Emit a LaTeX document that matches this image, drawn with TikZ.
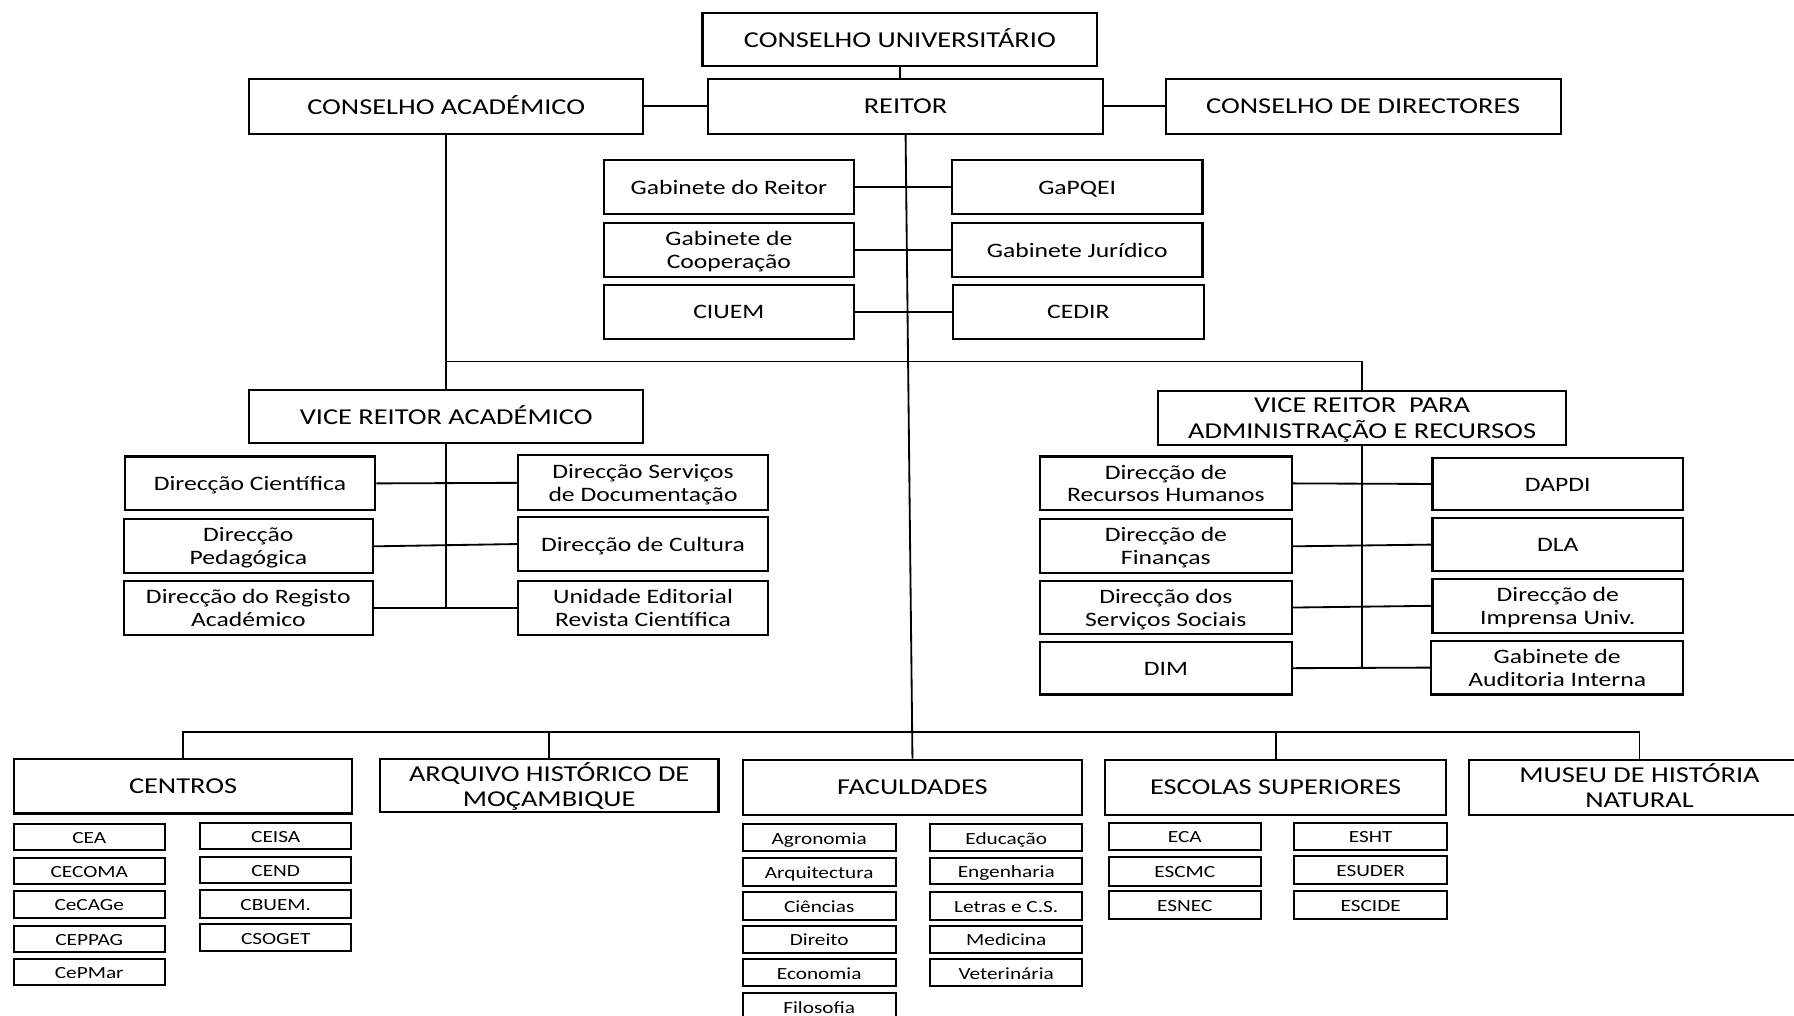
\documentclass[tikz,border=0pt]{standalone}
\usepackage{fontspec}
\setmainfont{Carlito}
\tikzset{
  box/.style={draw, line width=0.9pt, inner sep=0pt, align=center, fill=white},
  big/.style={font=\fontsize{12.4}{13.75}\selectfont},
  mid/.style={font=\fontsize{11.2}{12.5}\selectfont},
  small/.style={font=\fontsize{9.3}{11}\selectfont},
  conn/.style={line width=0.8pt}
}
\newcommand\bx[7]{\node[box,#7,minimum width={(#4-#2)*0.5pt},minimum height={(#5-#3)*0.5pt}] (#1) at ({(#2+#4)/2},{(#3+#5)/2}) {\raisebox{-1.1pt}[\height][\depth]{\scalebox{1}[0.8]{\begin{tabular}{@{}c@{}}#6\end{tabular}}}};}
\begin{document}
\begin{tikzpicture}[x=0.5pt,y=-0.5pt]
\useasboundingbox (0,0) rectangle (1568,888);
\clip (0,0) rectangle (1568,888);
% top
\bx{cu}{614}{11}{959}{58}{CONSELHO UNIVERSITÁRIO}{big}
\bx{ca}{218}{69}{562}{117}{CONSELHO ACADÉMICO}{big}
\bx{reitor}{619}{69}{964}{117}{REITOR}{big}
\bx{cd}{1019}{69}{1364}{117}{CONSELHO DE DIRECTORES}{big}
% gabinetes
\bx{gr}{528}{140}{746}{187}{Gabinete do Reitor}{mid}
\bx{gc}{528}{195}{746}{242}{Gabinete de\\Cooperação}{mid}
\bx{ciuem}{528}{249}{746}{296}{CIUEM}{mid}
\bx{gapqei}{832}{140}{1051}{187}{GaPQEI}{mid}
\bx{gj}{832}{195}{1051}{242}{Gabinete Jurídico}{mid}
\bx{cedir}{833}{249}{1052}{296}{CEDIR}{mid}
% VRA
\bx{vra}{218}{341}{562}{387}{VICE REITOR ACADÉMICO}{big}
\bx{dci}{109}{399}{328}{446}{Direcção Científica}{mid}
\bx{dpe}{108}{454}{326}{501}{Direcção\\Pedagógica}{mid}
\bx{dra}{108}{508}{326}{555}{Direcção do Registo\\Académico}{mid}
\bx{dsd}{453}{398}{671}{446}{Direcção Serviços\\de Documentação}{mid}
\bx{dcu}{453}{452}{671}{499}{Direcção de Cultura}{mid}
\bx{ue}{453}{508}{671}{555}{Unidade Editorial\\Revista Científica}{mid}
% VRAR
\bx{vrar}{1012}{342}{1369}{389}{VICE REITOR\ \ PARA\\ADMINISTRAÇÃO E RECURSOS}{big}
\bx{drh}{909}{399}{1129}{446}{Direcção de\\Recursos Humanos}{mid}
\bx{dfi}{909}{454}{1129}{501}{Direcção de\\Finanças}{mid}
\bx{dss}{909}{508}{1129}{554}{Direcção dos\\Serviços Sociais}{mid}
\bx{dim}{909}{561}{1129}{607}{DIM}{mid}
\bx{dapdi}{1252}{400}{1471}{446}{DAPDI}{mid}
\bx{dla}{1252}{453}{1471}{499}{DLA}{mid}
\bx{dip}{1252}{506}{1471}{553}{Direcção de\\Imprensa Univ.}{mid}
\bx{gai}{1251}{560}{1471}{607}{Gabinete de\\Auditoria Interna}{mid}
% bottom level
\bx{centros}{12}{663}{308}{711}{CENTROS}{big}
\bx{arq}{332}{663}{628}{710}{ARQUIVO HISTÓRICO DE\\MOÇAMBIQUE}{big}
\bx{fac}{649}{664}{946}{712}{FACULDADES}{big}
\bx{esc}{966}{664}{1264}{712}{ESCOLAS SUPERIORES}{big}
\bx{mus}{1284}{664}{1582}{712}{MUSEU DE HISTÓRIA\\NATURAL}{big}
% centros
\bx{cea}{12}{720}{144}{743}{CEA}{small}
\bx{cecoma}{12}{750}{144}{773}{CECOMA}{small}
\bx{cecage}{12}{779}{144}{802}{CeCAGe}{small}
\bx{ceppag}{12}{809}{144}{832}{CEPPAG}{small}
\bx{cepmar}{12}{838}{144}{861}{CePMar}{small}
\bx{ceisa}{175}{719}{307}{742}{CEISA}{small}
\bx{cend}{175}{749}{307}{772}{CEND}{small}
\bx{cbuem}{175}{778}{307}{802}{CBUEM.}{small}
\bx{csoget}{175}{808}{307}{831}{CSOGET}{small}
% faculdades
\bx{agr}{649}{720}{783}{744}{Agronomia}{small}
\bx{arqt}{649}{750}{783}{774}{Arquitectura}{small}
\bx{cie}{649}{780}{783}{804}{Ciências}{small}
\bx{dir}{649}{809}{783}{833}{Direito}{small}
\bx{eco}{649}{838}{783}{862}{Economia}{small}
\bx{fil}{649}{868}{783}{892}{Filosofia}{small}
\bx{edu}{813}{720}{946}{744}{Educação}{small}
\bx{eng}{813}{750}{946}{773}{Engenharia}{small}
\bx{let}{813}{780}{946}{804}{Letras e C.S.}{small}
\bx{med}{813}{809}{946}{833}{Medicina}{small}
\bx{vet}{813}{838}{946}{862}{Veterinária}{small}
% escolas
\bx{eca}{969}{719}{1102}{743}{ECA}{small}
\bx{escmc}{969}{749}{1102}{774}{ESCMC}{small}
\bx{esnec}{969}{779}{1102}{803}{ESNEC}{small}
\bx{esht}{1131}{719}{1265}{743}{ESHT}{small}
\bx{esuder}{1131}{748}{1265}{773}{ESUDER}{small}
\bx{escide}{1131}{779}{1265}{803}{ESCIDE}{small}
% connectors
\begin{scope}[conn]
\draw (cu.south) -- (cu.south |- reitor.north);
\draw (ca.east) -- (reitor.west);
\draw (reitor.east) -- (cd.west);
\draw (reitor.south) -- (fac.north);
\draw (gr.east) -- (gapqei.west);
\draw (gc.east) -- (gj.west);
\draw (ciuem.east) -- (cedir.west);
\draw (ca.south) -- (vra.north);
\coordinate (j1) at (390,316);
\draw (j1) -| (vrar.north);
\draw (vra.south) -- (vra.south |- dra.east);
\draw (dci.east) -- (dsd.west);
\draw (dpe.east) -- (dcu.west);
\draw (dra.east) -- (ue.west);
\draw (vrar.south) -- (vrar.south |- dim.east);
\draw (drh.east) -- (dapdi.west);
\draw (dfi.east) -- (dla.west);
\draw (dss.east) -- (dip.west);
\draw (dim.east) -- (gai.west);
\coordinate (bus) at (0,640);
\draw (centros.north) -- (centros.north |- bus) -- (mus.north |- bus) -- (mus.north);
\draw (arq.north) -- (arq.north |- bus);
\draw (esc.north) -- (esc.north |- bus);
\end{scope}
\end{tikzpicture}
\end{document}
